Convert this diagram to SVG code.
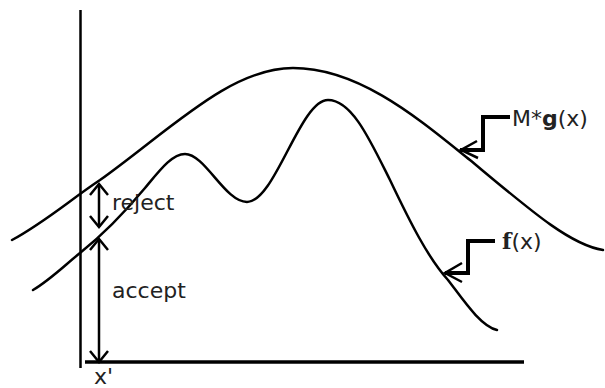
<svg xmlns="http://www.w3.org/2000/svg" width="605" height="388" viewBox="0 0 605 388">
<style>
.c{fill:none;stroke:#000;stroke-width:2.5;stroke-linecap:round}
.a{fill:none;stroke:#000;stroke-width:2.5}
.b{fill:none;stroke:#000;stroke-width:4}
.t{font-family:"DejaVu Sans",sans-serif;font-size:22px;fill:#222}
</style>
<rect width="605" height="388" fill="#fff"/>
<g id="axes">
<line x1="80.5" y1="10" x2="80.5" y2="368" class="a"/>
<line x1="85" y1="362" x2="524" y2="362" stroke="#000" stroke-width="3.5"/>
<text class="t" x="94" y="384" font-size="16">x'</text>
</g>
<g id="g-curve">
<path class="c" d="M12,240 C45,222 70,200 100,180 C170,130 230,68 293,68 C360,68 420,120 470,160 C530,210 570,245 603,250"/>
</g>
<g id="f-curve">
<path class="c" d="M33,290 C50,280 65,265 80,253 C100,237 125,212 145,188 C160,170 172,154 185,154 C205,154 225,202 247,202 C275,202 300,100 328,100 C352,100 370,140 390,180 C410,222 428,258 448,280 C462,298 480,326 497,330"/>
</g>
<g id="connectors">
<line x1="99" y1="184" x2="99" y2="227" class="a"/>
<polyline points="90,195 99,184 108,195" class="a"/>
<polyline points="90,216 99,227 108,216" class="a"/>
<line x1="99" y1="239" x2="99" y2="362" class="a"/>
<polyline points="90,250 99,239 108,250" class="a"/>
<polyline points="90,351 99,362 108,351" class="a"/>
<polyline points="510,117 483,117 483,150 460,150" class="b"/>
<polyline points="477,141 461,150 478,158" class="a" stroke-width="3"/>
<polyline points="495,241 468,241 468,273 445,273" class="b"/>
<polyline points="462,263 445,273 462,282" class="a" stroke-width="3"/>
</g>
<g id="labels">
<text class="t" x="112" y="210">reject</text>
<text class="t" x="112" y="298">accept</text>
<text class="t" x="512" y="126" font-size="21">M*<tspan font-weight="bold">g</tspan>(x)</text>
<text class="t" x="502" y="249" font-size="21"><tspan font-family="'DejaVu Serif',serif" font-weight="bold">f</tspan>(x)</text>
</g>
</svg>
